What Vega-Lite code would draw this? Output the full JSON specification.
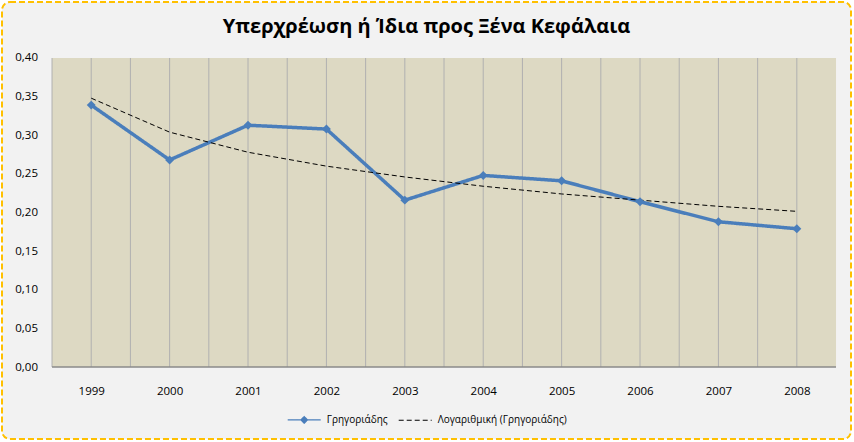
{
  "$schema": "https://vega.github.io/schema/vega-lite/v6.json",
  "width": 849,
  "height": 437,
  "autosize": {"type": "none"},
  "padding": {"left": 2, "top": 2, "right": 3, "bottom": 3},
  "background": "#FFFFFF",
  "config": {
    "view": {"fill": "#F2F2F2", "stroke": "#FFC000", "strokeWidth": 2, "strokeDash": [6, 3], "cornerRadius": 8},
    "font": "Open Sans",
    "axis": {"grid": false, "ticks": false, "domain": false},
    "legend": {
      "orient": "none", "direction": "horizontal", "legendX": 284.7, "legendY": 400, "title": null,
      "symbolSize": 1089, "symbolStrokeWidth": 1.2, "labelFontSize": 10, "labelColor": "#000000", "labelFont": "Open Sans", "labelOffset": 5, "columnPadding": 8, "padding": 0
    }
  },
  "title": {
    "text": "Υπερχρέωση ή Ίδια προς Ξένα Κεφάλαια",
    "font": "Open Sans",
    "fontSize": 20,
    "fontWeight": "bold",
    "color": "#000000",
    "anchor": "middle",
    "frame": "group",
    "offset": -35
  },
  "data": {
    "values": [
      {"year": 1999, "series": "Γρηγοριάδης", "value": 0.339},
      {"year": 2000, "series": "Γρηγοριάδης", "value": 0.268},
      {"year": 2001, "series": "Γρηγοριάδης", "value": 0.313},
      {"year": 2002, "series": "Γρηγοριάδης", "value": 0.308},
      {"year": 2003, "series": "Γρηγοριάδης", "value": 0.216},
      {"year": 2004, "series": "Γρηγοριάδης", "value": 0.248},
      {"year": 2005, "series": "Γρηγοριάδης", "value": 0.241},
      {"year": 2006, "series": "Γρηγοριάδης", "value": 0.214},
      {"year": 2007, "series": "Γρηγοριάδης", "value": 0.188},
      {"year": 2008, "series": "Γρηγοριάδης", "value": 0.179},
      {"year": 1999, "series": "Λογαριθμική (Γρηγοριάδης)", "value": 0.348},
      {"year": 2000, "series": "Λογαριθμική (Γρηγοριάδης)", "value": 0.304},
      {"year": 2001, "series": "Λογαριθμική (Γρηγοριάδης)", "value": 0.278},
      {"year": 2002, "series": "Λογαριθμική (Γρηγοριάδης)", "value": 0.260},
      {"year": 2003, "series": "Λογαριθμική (Γρηγοριάδης)", "value": 0.246},
      {"year": 2004, "series": "Λογαριθμική (Γρηγοριάδης)", "value": 0.234},
      {"year": 2005, "series": "Λογαριθμική (Γρηγοριάδης)", "value": 0.224},
      {"year": 2006, "series": "Λογαριθμική (Γρηγοριάδης)", "value": 0.216},
      {"year": 2007, "series": "Λογαριθμική (Γρηγοριάδης)", "value": 0.208},
      {"year": 2008, "series": "Λογαριθμική (Γρηγοριάδης)", "value": 0.2015}
    ]
  },
  "layer": [
    {
      "data": {"values": [{}]},
      "mark": {"type": "rect", "fill": "#DDD9C3"},
      "encoding": {
        "x": {"datum": 1998.5, "type": "quantitative", "scale": {"domain": [1997.862, 2008.691], "nice": false, "zero": false}},
        "x2": {"datum": 2008.5},
        "y": {"datum": 0, "type": "quantitative", "scale": {"domain": [-0.0932, 0.47249], "nice": false, "zero": false}},
        "y2": {"datum": 0.4}
      }
    },
    {
      "transform": [{"filter": "datum.series === 'Γρηγοριάδης'"}],
      "mark": {"type": "rule", "color": "#B0B0B0", "strokeWidth": 1},
      "encoding": {
        "x": {"field": "year", "type": "quantitative"},
        "y": {"datum": 0, "type": "quantitative"},
        "y2": {"datum": 0.4}
      }
    },
    {
      "transform": [{"filter": "datum.series === 'Γρηγοριάδης'"}],
      "mark": {"type": "rule", "color": "#B0B0B0", "strokeWidth": 1, "xOffset": -39.2},
      "encoding": {
        "x": {"field": "year", "type": "quantitative"},
        "y": {"datum": 0, "type": "quantitative"},
        "y2": {"datum": 0.4}
      }
    },
    {
      "data": {"values": [{}]},
      "mark": {"type": "rule", "color": "#8A8A8A", "strokeWidth": 1.5},
      "encoding": {
        "x": {"datum": 1998.5, "type": "quantitative"},
        "x2": {"datum": 2008.5},
        "y": {"datum": 0, "type": "quantitative"}
      }
    },
    {
      "transform": [{"filter": "datum.series === 'Γρηγοριάδης'"}],
      "mark": {"type": "line", "strokeWidth": 3.5},
      "encoding": {
        "x": {
          "field": "year", "type": "quantitative",
          "axis": {"values": [1999, 2000, 2001, 2002, 2003, 2004, 2005, 2006, 2007, 2008], "format": "d", "title": null, "labelPadding": 18, "offset": -72, "labelFontSize": 11.5, "labelColor": "#000000", "labelFont": "Open Sans"}
        },
        "y": {
          "field": "value", "type": "quantitative",
          "axis": {"values": [0, 0.05, 0.1, 0.15, 0.2, 0.25, 0.3, 0.35, 0.4], "labelExpr": "replace(format(datum.value, '.2f'), '.', ',')", "title": null, "labelPadding": 0.5, "offset": -36, "labelFontSize": 11.5, "labelColor": "#000000", "labelFont": "Open Sans"}
        },
        "color": {
          "field": "series", "type": "nominal",
          "scale": {"domain": ["Γρηγοριάδης", "Λογαριθμική (Γρηγοριάδης)"], "range": ["#4A7EBB", "#000000"]},
          "legend": {
            "encode": {"symbols": {"update": {
              "shape": {"signal": "datum.value === 'Γρηγοριάδης' ? 'M-1,0H1M0,-0.2L0.2,0L0,0.2L-0.2,0Z' : 'stroke'"},
              "fill": {"signal": "datum.value === 'Γρηγοριάδης' ? '#4A7EBB' : 'transparent'"},
              "strokeWidth": {"value": 1.2}
            }}}
          }
        },
        "strokeDash": {
          "field": "series", "type": "nominal",
          "scale": {"domain": ["Γρηγοριάδης", "Λογαριθμική (Γρηγοριάδης)"], "range": [[1, 0], [5, 3]]},
          "legend": {
            "encode": {"symbols": {"update": {
              "shape": {"signal": "datum.value === 'Γρηγοριάδης' ? 'M-1,0H1M0,-0.2L0.2,0L0,0.2L-0.2,0Z' : 'stroke'"},
              "fill": {"signal": "datum.value === 'Γρηγοριάδης' ? '#4A7EBB' : 'transparent'"},
              "strokeWidth": {"value": 1.2}
            }}}
          }
        }
      }
    },
    {
      "transform": [{"filter": "datum.series !== 'Γρηγοριάδης'"}],
      "mark": {"type": "line", "strokeWidth": 1},
      "encoding": {
        "x": {"field": "year", "type": "quantitative"},
        "y": {"field": "value", "type": "quantitative"},
        "color": {"field": "series", "type": "nominal"},
        "strokeDash": {"field": "series", "type": "nominal"}
      }
    },
    {
      "transform": [{"filter": "datum.series === 'Γρηγοριάδης'"}],
      "mark": {"type": "point", "shape": "diamond", "filled": true, "size": 80, "color": "#4A7EBB", "opacity": 1},
      "encoding": {
        "x": {"field": "year", "type": "quantitative"},
        "y": {"field": "value", "type": "quantitative"}
      }
    }
  ]
}
